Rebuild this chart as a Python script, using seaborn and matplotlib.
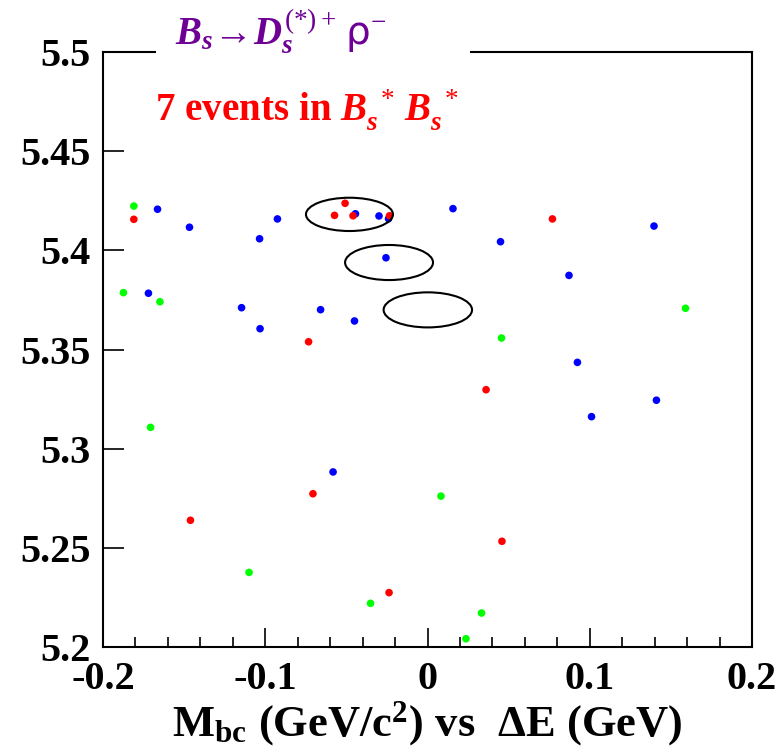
import numpy as np
import pandas as pd
import seaborn as sns
import matplotlib
matplotlib.use("Agg")
import matplotlib.pyplot as plt
from matplotlib.patches import Ellipse, Rectangle

# ---- data (Delta E [GeV], Mbc [GeV/c^2]) ----
blue_de = [-0.1664, -0.1467, -0.1035, -0.0925, -0.0444, -0.0299, -0.0240, 0.0157,
           0.1396, 0.0450, -0.0256, 0.0872, -0.1720, -0.1146, -0.0659, -0.0450,
           -0.1032, 0.0924, 0.1411, 0.1011, -0.0582]
blue_mbc = [5.4208, 5.4117, 5.4059, 5.4159, 5.4185, 5.4174, 5.4160, 5.4211,
            5.4123, 5.4044, 5.3963, 5.3874, 5.3784, 5.3711, 5.3701, 5.3644,
            5.3605, 5.3435, 5.3244, 5.3161, 5.2882]

red_de = [-0.1810, -0.0508, -0.0573, -0.0459, -0.0234, 0.0770, -0.0733, 0.0361,
          -0.0706, -0.1461, 0.0459, -0.0237]
red_mbc = [5.4157, 5.4238, 5.4177, 5.4175, 5.4175, 5.4159, 5.3539, 5.3297,
           5.2772, 5.2638, 5.2532, 5.2273]

green_de = [-0.1810, -0.1874, -0.1649, 0.1590, 0.0456, -0.1707, 0.0083, -0.1100,
            -0.0351, 0.0333, 0.0237]
green_mbc = [5.4224, 5.3787, 5.3741, 5.3708, 5.3558, 5.3107, 5.2760, 5.2375,
             5.2219, 5.2170, 5.2040]

# signal-region ellipses: centre dE, centre Mbc, full width dE, full height Mbc
ell_de = [-0.0481, -0.0237, 0.0002]
ell_mbc = [5.4182, 5.3939, 5.3700]
ell_w = [0.0536, 0.0542, 0.0545]
ell_h = [0.0168, 0.0177, 0.0177]

xticks = [-0.2, -0.1, 0.0, 0.1, 0.2]
xticklabels = ["-0.2", "-0.1", "0", "0.1", "0.2"]
yticks = [5.2, 5.25, 5.3, 5.35, 5.4, 5.45, 5.5]
yticklabels = ["5.2", "5.25", "5.3", "5.35", "5.4", "5.45", "5.5"]

title_text = r"$B_s\!\rightarrow\!D_s^{\mathrm{(*)+}}\,\mathsf{\rho}^{-}$"
events_text = r"$\mathbf{7\ events\ in}\ B_s^{\ *}\,B_s^{\ *}$"
xlabel_text = r"$\mathbf{M_{bc}\ (GeV/c^{2})\ vs\ \ \Delta E\ (GeV)}$"

# ---- style ----
sns.set_style("white")
plt.rcParams["font.family"] = ["Liberation Serif", "DejaVu Sans"]
plt.rcParams["font.weight"] = "bold"
plt.rcParams["text.color"] = "black"
plt.rcParams["axes.labelcolor"] = "black"
plt.rcParams["xtick.color"] = "black"
plt.rcParams["ytick.color"] = "black"
plt.rcParams["mathtext.fontset"] = "custom"
plt.rcParams["mathtext.rm"] = "Liberation Serif:weight=normal"
plt.rcParams["mathtext.it"] = "Liberation Serif:style=italic:weight=bold"
plt.rcParams["mathtext.bf"] = "Liberation Serif:weight=bold"
plt.rcParams["mathtext.sf"] = "DejaVu Sans:weight=normal"

df = pd.concat([
    pd.DataFrame({"dE": blue_de, "Mbc": blue_mbc, "cat": "blue"}),
    pd.DataFrame({"dE": red_de, "Mbc": red_mbc, "cat": "red"}),
    pd.DataFrame({"dE": green_de, "Mbc": green_mbc, "cat": "green"}),
], ignore_index=True)
palette = {"blue": "#0000ff", "red": "#ff0000", "green": "#00ff00"}

fig = plt.figure(figsize=(7.76, 7.5), dpi=100)
ax = fig.add_axes([103 / 776, 1 - 646.7 / 750, (752 - 103) / 776, (646.7 - 52.3) / 750])

sns.scatterplot(data=df, x="dE", y="Mbc", hue="cat", palette=palette,
                s=30, linewidth=0, legend=False, ax=ax, zorder=3)

for cx, cy, w, h in zip(ell_de, ell_mbc, ell_w, ell_h):
    ax.add_patch(Ellipse((cx, cy), w, h, fill=False, edgecolor="black",
                         linewidth=1.5, zorder=4))

ax.set_xlim(-0.2, 0.2)
ax.set_ylim(5.2, 5.5)
ax.set_xticks(xticks)
ax.set_xticklabels(xticklabels)
ax.set_xticks(np.arange(-0.2, 0.2001, 0.02), minor=True)
ax.set_yticks(yticks)
ax.set_yticklabels(yticklabels)

for sp in ax.spines.values():
    sp.set_visible(True)
    sp.set_color("black")
    sp.set_linewidth(1.5)

ax.tick_params(axis="x", which="major", direction="in", length=14, width=1.2,
               bottom=True, top=False, pad=10, labelsize=29)
ax.tick_params(axis="x", which="minor", direction="in", length=7, width=1.2,
               bottom=True, top=False)
ax.tick_params(axis="y", which="major", direction="in", length=15, width=1.2,
               left=True, right=False, pad=9, labelsize=29)
for lab in ax.get_xticklabels() + ax.get_yticklabels():
    lab.set_fontweight("bold")
    lab.set_color("black")

ax.set_xlabel(xlabel_text, fontsize=32, labelpad=1, color="black")
ax.set_ylabel("")

# white gap in the top frame behind the title
fig.add_artist(Rectangle((156 / 776, 1 - 62 / 750), (470 - 156) / 776, 22 / 750,
                         transform=fig.transFigure, facecolor="white",
                         edgecolor="none", zorder=10))
fig.text(175 / 776, 1 - 45 / 750, title_text, color="#6e0096", fontsize=28,
         fontweight="normal", ha="left", va="baseline", zorder=11)
fig.text(155 / 776, 1 - 121 / 750, events_text, color="#ff0000", fontsize=28,
         ha="left", va="baseline", zorder=11)

fig.savefig("out.png", dpi=100)
